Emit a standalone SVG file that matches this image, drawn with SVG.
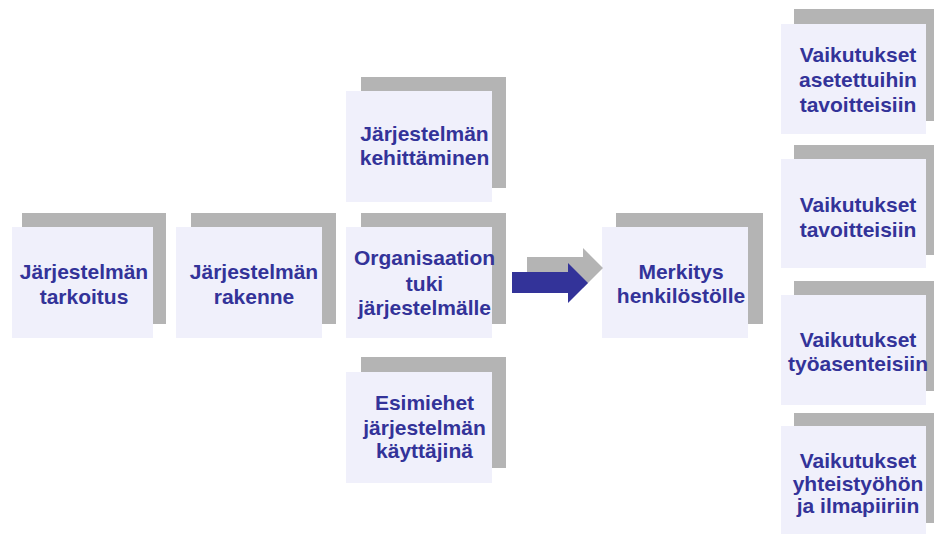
<svg xmlns="http://www.w3.org/2000/svg" width="934" height="534" viewBox="0 0 934 534">
<style>
.sh{fill:#b4b4b4}
.bx{fill:#f0f0fb}
.t{font-family:"Liberation Sans",Arial,sans-serif;font-weight:bold;font-size:21px;fill:#333399;text-anchor:middle}
</style>
<rect width="934" height="534" fill="#ffffff"/>
<g id="n1">
<rect class="sh" x="22" y="213" width="144" height="111"/>
<rect class="bx" x="12" y="227" width="141" height="111"/>
<text class="t" x="84" y="279">Järjestelmän</text>
<text class="t" x="84" y="304">tarkoitus</text>
</g>
<g id="n2">
<rect class="sh" x="191" y="213" width="145" height="111"/>
<rect class="bx" x="176" y="227" width="146" height="111"/>
<text class="t" x="254" y="279">Järjestelmän</text>
<text class="t" x="254" y="304">rakenne</text>
</g>
<g id="n3">
<rect class="sh" x="361" y="77" width="145" height="111"/>
<rect class="bx" x="346" y="91" width="146" height="111"/>
<text class="t" x="424.5" y="141">Järjestelmän</text>
<text class="t" x="424.5" y="165">kehittäminen</text>
</g>
<g id="n4">
<rect class="sh" x="361" y="213" width="145" height="111"/>
<rect class="bx" x="346" y="227" width="146" height="111"/>
<text class="t" x="424.5" y="265">Organisaation</text>
<text class="t" x="424.5" y="291">tuki</text>
<text class="t" x="424.5" y="315">järjestelmälle</text>
</g>
<g id="n5">
<rect class="sh" x="361" y="357" width="145" height="111"/>
<rect class="bx" x="346" y="372" width="146" height="111"/>
<text class="t" x="424.5" y="410">Esimiehet</text>
<text class="t" x="424.5" y="435">järjestelmän</text>
<text class="t" x="424.5" y="458">käyttäjinä</text>
</g>
<g id="n6">
<rect class="sh" x="616" y="213" width="147" height="111"/>
<rect class="bx" x="602" y="227" width="146" height="111"/>
<text class="t" x="681" y="279">Merkitys</text>
<text class="t" x="681" y="303">henkilöstölle</text>
</g>
<g id="n7">
<rect class="sh" x="794" y="9" width="146" height="112"/>
<rect class="bx" x="781" y="24" width="145" height="110"/>
<text class="t" x="858" y="62">Vaikutukset</text>
<text class="t" x="858" y="87">asetettuihin</text>
<text class="t" x="858" y="112">tavoitteisiin</text>
</g>
<g id="n8">
<rect class="sh" x="794" y="145" width="146" height="110"/>
<rect class="bx" x="781" y="159" width="145" height="109"/>
<text class="t" x="858" y="212">Vaikutukset</text>
<text class="t" x="858" y="237">tavoitteisiin</text>
</g>
<g id="n9">
<rect class="sh" x="794" y="281" width="146" height="110"/>
<rect class="bx" x="781" y="295" width="145" height="110"/>
<text class="t" x="858" y="347">Vaikutukset</text>
<text class="t" x="858" y="371">työasenteisiin</text>
</g>
<g id="n10">
<rect class="sh" x="794" y="413" width="146" height="110"/>
<rect class="bx" x="781" y="426" width="145" height="110"/>
<text class="t" x="858" y="468">Vaikutukset</text>
<text class="t" x="858" y="491">yhteistyöhön</text>
<text class="t" x="858" y="513">ja ilmapiiriin</text>
</g>
<g id="connectors">
<polygon fill="#b4b4b4" points="527,257 583,257 583,248 603,268 583,288 583,278 527,278"/>
<polygon fill="#333399" points="512,272 568,272 568,263 588,283 568,303 568,293 512,293"/>
</g>
</svg>
